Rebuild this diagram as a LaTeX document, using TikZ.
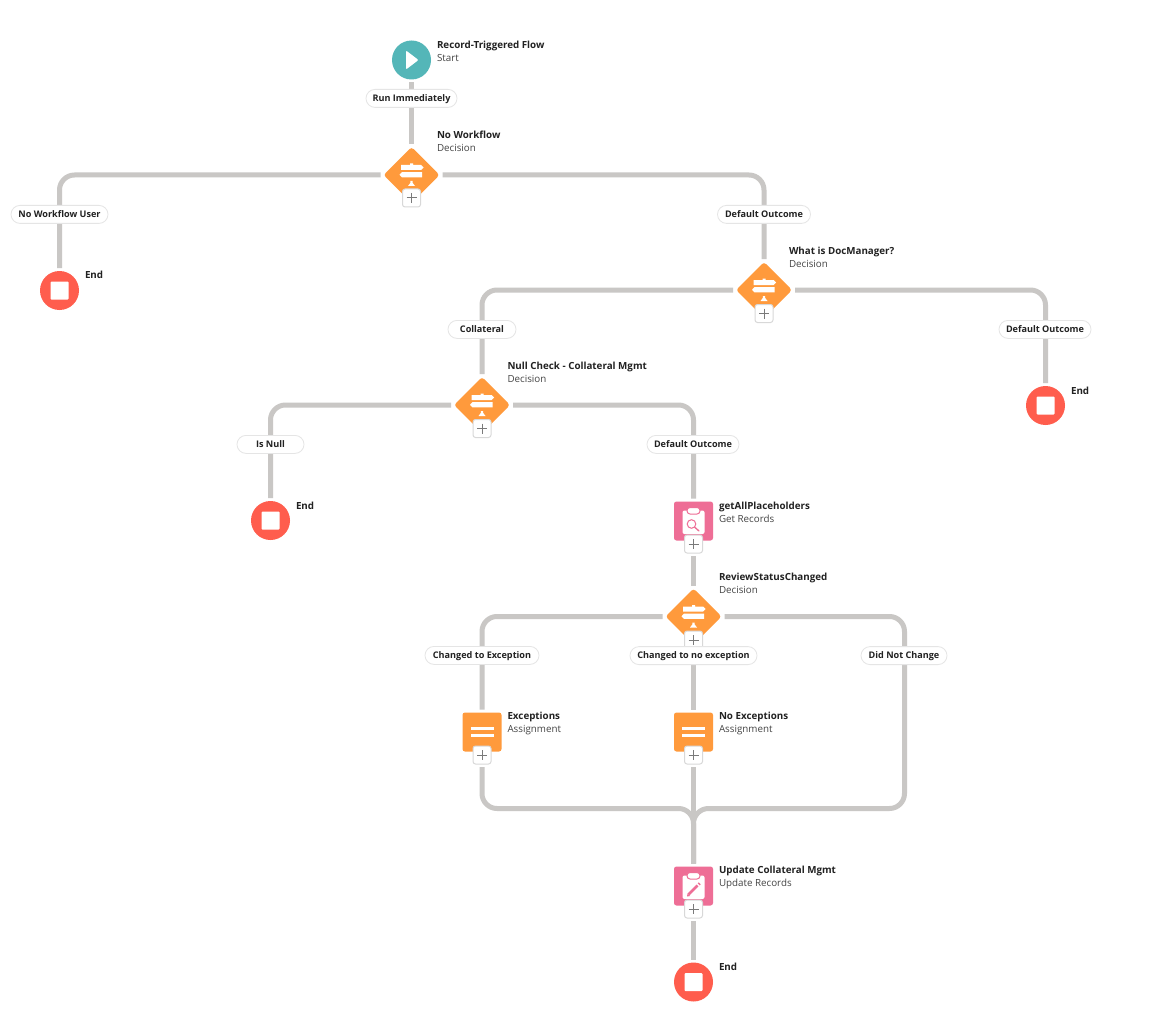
\documentclass[tikz,border=0pt]{standalone}
\usepackage{fontspec}
\setmainfont{Open Sans}
\usetikzlibrary{shapes.geometric,backgrounds}
\definecolor{linegrey}{HTML}{C9C7C5}
\definecolor{teal}{HTML}{54B6B8}
\definecolor{flowred}{HTML}{FF5D4D}
\definecolor{floworange}{HTML}{FF9A3C}
\definecolor{flowpink}{HTML}{EE6E96}
\definecolor{pillborder}{HTML}{E5E5E5}
\definecolor{plusborder}{HTML}{D8D8D8}
\definecolor{plusmark}{HTML}{7A7A7A}
\definecolor{textdark}{HTML}{222222}
\definecolor{textsub}{HTML}{444444}
\newcommand{\clipbase}{%
  \fill[white,rounded corners=2pt] (-11,-10.5) rectangle (11,13);
  \fill[white,draw=flowpink,line width=1pt,rounded corners=3pt] (-6.5,-13.5) rectangle (6.5,-7);}
\tikzset{
  x=1pt,y=-1pt,
  conn/.style={draw=linegrey,line width=5pt,shorten >=3pt,shorten <=3pt},
  merged/.style={conn,rounded corners=15pt},
  icon/.style={sharp corners,shift={(path picture bounding box.center)}},
  startnode/.style={circle,fill=teal,minimum size=39pt,inner sep=0pt,outer sep=0pt,
    path picture={\fill[white,icon,rounded corners=1pt] (-5.5,-9.5) -- (7,0) -- (-5.5,9.5) -- cycle;}},
  endnode/.style={circle,fill=flowred,minimum size=39pt,inner sep=0pt,outer sep=0pt,
    path picture={\fill[white,icon,rounded corners=1pt] (-9,-9) rectangle (9,9);}},
  decision/.style={diamond,aspect=1,fill=floworange,rounded corners=3pt,minimum width=56pt,minimum height=56pt,inner sep=0pt,outer sep=0pt,
    path picture={\begin{scope}[icon]
      \fill[white] (-1.5,-11.5) -- (1.5,-11.5) -- (1.5,-10) -- (9.5,-10) -- (12,-7.5) -- (9.5,-5) -- (-10.5,-5) -- (-10.5,-10) -- (-1.5,-10) -- cycle;
      \fill[white] (-9.5,-2.8) -- (10.5,-2.8) -- (10.5,2.3) -- (-9.5,2.3) -- (-12,-0.25) -- cycle;
      \fill[white] (-3.5,11) -- (-1.2,8) -- (-1.2,6) -- (1.2,6) -- (1.2,8) -- (3.5,11) -- cycle;
    \end{scope}}},
  assignnode/.style={rectangle,fill=floworange,rounded corners=2.5pt,minimum size=39pt,inner sep=0pt,outer sep=0pt,
    path picture={\begin{scope}[icon]
      \fill[white] (-11.5,-5.2) rectangle (11.5,-2.4);
      \fill[white] (-11.5,1.7) rectangle (11.5,4.5);
    \end{scope}}},
  getnode/.style={rectangle,fill=flowpink,rounded corners=2.5pt,minimum size=39pt,inner sep=0pt,outer sep=0pt,
    path picture={\begin{scope}[icon]
      \clipbase
      \draw[flowpink,line width=1pt] (-2,3) circle (4.3);
      \draw[flowpink,line width=1.3pt,line cap=round] (1.2,6.2) -- (5.5,10);
    \end{scope}}},
  updatenode/.style={rectangle,fill=flowpink,rounded corners=2.5pt,minimum size=39pt,inner sep=0pt,outer sep=0pt,
    path picture={\begin{scope}[icon]
      \clipbase
      \draw[flowpink,line width=2.5pt] (-5,8.5) -- (4,-0.5);
      \fill[flowpink] (-6.5,10.5) -- (-6,7.5) -- (-3.5,10) -- cycle;
      \fill[flowpink] (4.2,-2.6) -- (5.2,-3.6) -- (7.2,-1.6) -- (6.2,-0.6) -- cycle;
    \end{scope}}},
  plusbox/.style={rectangle,draw=plusborder,fill=white,line width=1pt,rounded corners=2.5pt,minimum size=18pt,inner sep=0pt,outer sep=0pt,
    path picture={\begin{scope}[icon]
      \draw[plusmark,line width=1pt] (-5,0) -- (5,0) (0,-5) -- (0,5);
    \end{scope}}},
  pill/.style={rectangle,draw=pillborder,fill=white,line width=0.8pt,rounded corners=9pt,minimum height=18pt,inner sep=0pt,outer sep=0pt,
    text height=7.6pt,text depth=1pt,text=textdark,font=\fontsize{9.1}{10}\selectfont\bfseries},
  caption/.style={anchor=west,align=left,inner sep=0pt,outer sep=0pt,text=textsub,font=\fontsize{9.8}{13}\selectfont},
}
\newcommand{\ttl}[1]{\textcolor{textdark}{\bfseries #1}}
\begin{document}
\begin{tikzpicture}
\useasboundingbox (0,0) rectangle (1151,1027);

% nodes
\node[startnode] (start) at (411.5,60) {};
\node[decision] (d1) at (411.5,175) {};
\node[endnode] (end1) at (59.5,290.5) {};
\node[decision] (d2) at (764,290) {};
\node[endnode] (end2) at (1045.5,405.5) {};
\node[decision] (d3) at (482,405) {};
\node[endnode] (end3) at (270.5,520.5) {};
\node[getnode] (get) at (693.5,521) {};
\node[decision] (d4) at (693.5,616.5) {};
\node[assignnode] (a1) at (482,732) {};
\node[assignnode] (a2) at (693.5,732) {};
\node[updatenode] (upd) at (693.5,886) {};
\node[endnode] (end4) at (693.5,982) {};

\node[plusbox] (p1) at (411.5,198) {};
\node[plusbox] (p2) at (764,313.5) {};
\node[plusbox] (p3) at (482,428.5) {};
\node[plusbox] (p4) at (693.5,544) {};
\node[plusbox] (p5) at (693.5,640) {};
\node[plusbox] (p6) at (482,755) {};
\node[plusbox] (p7) at (693.5,755) {};
\node[plusbox] (p8) at (693.5,909) {};

\node[pill,minimum width=91pt] (l1) at (411.5,98.4) {Run Immediately};
\node[pill,minimum width=97pt] (l2) at (59.5,214.4) {No Workflow User};
\node[pill,minimum width=93pt] (l3) at (764,214.4) {Default Outcome};
\node[pill,minimum width=68pt] (l4) at (482,329.4) {Collateral};
\node[pill,minimum width=92pt] (l5) at (1045,329.4) {Default Outcome};
\node[pill,minimum width=67pt] (l6) at (270.5,444.4) {Is Null};
\node[pill,minimum width=92pt] (l7) at (693,444.4) {Default Outcome};
\node[pill,minimum width=114pt] (l8) at (482,655.4) {Changed to Exception};
\node[pill,minimum width=127pt] (l9) at (693.5,655.6) {Changed to no exception};
\node[pill,minimum width=86pt] (l10) at (904,655.6) {Did Not Change};

\node[caption] (t1) at (437,51.5) {\ttl{Record-Triggered Flow}\\Start};
\node[caption] (t2) at (437,141.5) {\ttl{No Workflow}\\Decision};
\node[caption] (t3) at (85,274.5) {\ttl{End}};
\node[caption] (t4) at (789,257) {\ttl{What is DocManager?}\\Decision};
\node[caption] (t5) at (1071,390.5) {\ttl{End}};
\node[caption] (t6) at (507.5,372) {\ttl{Null Check - Collateral Mgmt}\\Decision};
\node[caption] (t7) at (296,505.5) {\ttl{End}};
\node[caption] (t8) at (719,512) {\ttl{getAllPlaceholders}\\Get Records};
\node[caption] (t9) at (719,583) {\ttl{ReviewStatusChanged}\\Decision};
\node[caption] (t10) at (507.5,723.5) {\ttl{Exceptions}\\Assignment};
\node[caption] (t11) at (719,723.5) {\ttl{No Exceptions}\\Assignment};
\node[caption] (t12) at (719,877.5) {\ttl{Update Collateral Mgmt}\\Update Records};
\node[caption] (t13) at (719,966.5) {\ttl{End}};

\coordinate (merge) at (693.5,808.5);
\coordinate (rightturn) at (904.5,808.5);

% connectors
\begin{scope}[on background layer]
\fill[white] (0,0) rectangle (1151,1027);
\draw[conn] (start) -- (d1);
\draw[merged] (d1.west) -| (end1.north);
\draw[merged] (d1.east) -| (d2.north);
\draw[merged] (d2.west) -| (d3.north);
\draw[merged] (d2.east) -| (end2.north);
\draw[merged] (d3.west) -| (end3.north);
\draw[merged] (d3.east) -| (get.north);
\draw[conn] (p4) -- (d4);
\draw[merged] (d4.west) -| (a1.north);
\draw[conn] (p5) -- (a2);
\draw[merged] (d4.east) -| (rightturn) -- (merge) -- (upd.north);
\draw[merged] (p6) |- (merge) -- (upd.north);
\draw[conn] (p7) -- (upd);
\draw[conn] (p8) -- (end4);
\end{scope}
\end{tikzpicture}
\end{document}
